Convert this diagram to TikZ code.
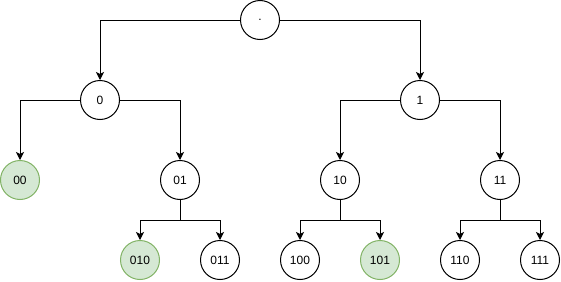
\documentclass[tikz,border=0pt]{standalone}
\usepackage{fontspec}
\setmainfont{Liberation Sans}
\usetikzlibrary{arrows.meta}
\definecolor{gfill}{HTML}{D5E8D4}
\definecolor{gline}{HTML}{82B366}
\begin{document}
\begin{tikzpicture}[x=1pt,y=-1pt,
  vert/.style={circle,draw=black,line width=1pt,minimum size=39pt,inner sep=0pt,fill=white,font=\fontsize{12}{14}\selectfont},
  leaf/.style={vert,fill=gfill,draw=gline},
  conn/.style={line width=1pt,-{Stealth[length=8pt,width=8pt,inset=2pt]}}]
\useasboundingbox (0,0) rectangle (561,281);
\node[vert] (r) at (260,20) {.};
\node[vert] (n0) at (100,100) {0};
\node[vert] (n1) at (420,100) {1};
\node[leaf] (n00) at (20,180) {00};
\node[vert] (n01) at (180,180) {01};
\node[vert] (n10) at (340,180) {10};
\node[vert] (n11) at (500,180) {11};
\node[leaf] (n010) at (140,260) {010};
\node[vert] (n011) at (220,260) {011};
\node[vert] (n100) at (300,260) {100};
\node[leaf] (n101) at (380,260) {101};
\node[vert] (n110) at (460,260) {110};
\node[vert] (n111) at (540,260) {111};
\draw[conn] (r.west) -| (n0.north);
\draw[conn] (r.east) -| (n1.north);
\draw[conn] (n0.west) -| (n00.north);
\draw[conn] (n0.east) -| (n01.north);
\draw[conn] (n1.west) -| (n10.north);
\draw[conn] (n1.east) -| (n11.north);
\coordinate (b01) at (180,220);
\coordinate (b10) at (340,220);
\coordinate (b11) at (500,220);
\draw[conn] (n01.south) -- (b01) -| (n010.north);
\draw[conn] (n01.south) -- (b01) -| (n011.north);
\draw[conn] (n10.south) -- (b10) -| (n100.north);
\draw[conn] (n10.south) -- (b10) -| (n101.north);
\draw[conn] (n11.south) -- (b11) -| (n110.north);
\draw[conn] (n11.south) -- (b11) -| (n111.north);
\end{tikzpicture}
\end{document}
